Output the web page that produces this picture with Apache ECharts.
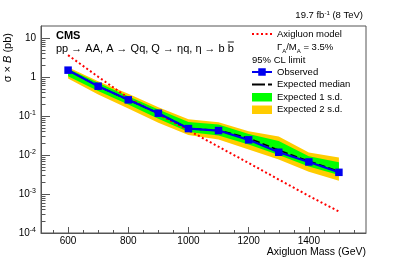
<!DOCTYPE html>
<html><head><meta charset="utf-8">
<script src="https://cdn.jsdelivr.net/npm/echarts@6/dist/echarts.min.js"></script>
<style>html,body{margin:0;padding:0;background:#fff}#c{width:407px;height:260px}</style>
</head><body><div id="c"></div>
<script>
// ---- data ----
const masses = [600, 700, 800, 900, 1000, 1100, 1200, 1300, 1400, 1500];
const observed = [1.48, 0.574, 0.257, 0.117, 0.0472, 0.042, 0.0243, 0.0117, 0.0066, 0.00358];
const expectedMedian = [1.48, 0.574, 0.257, 0.117, 0.0472, 0.0425, 0.0268, 0.0132, 0.0069, 0.00375];
const exp1Up = [1.60, 0.70, 0.318, 0.145, 0.0693, 0.0598, 0.0345, 0.0226, 0.0093, 0.00653];
const exp1Down = [1.04, 0.43, 0.195, 0.0838, 0.0384, 0.0313, 0.0184, 0.00988, 0.00501, 0.00307];
const exp2Up = [1.76, 0.77, 0.366, 0.166, 0.0818, 0.0686, 0.0403, 0.0295, 0.01159, 0.00853];
const exp2Down = [0.90, 0.35, 0.154, 0.0662, 0.0322, 0.0247, 0.0137, 0.00757, 0.00373, 0.00219];
const axigluonModel = [3.58, 1.0, 0.288, 0.11, 0.0427, 0.0162, 0.0062, 0.00234, 0.00089, 0.000355];

const xMin = 510, xMax = 1590, yMin = 0.0001, yMax = 20;
const xMajorTicks = [600, 800, 1000, 1200, 1400];
const xMinorTicks = [550, 650, 700, 750, 850, 900, 950, 1050, 1100, 1150, 1250, 1300, 1350, 1450, 1500, 1550];
const yMajorTicks = [0.0001, 0.001, 0.01, 0.1, 1, 10];
const yMinorTicks = [0.0002, 0.0003, 0.0004, 0.0005, 0.0006, 0.0007, 0.0008, 0.0009,
  0.002, 0.003, 0.004, 0.005, 0.006, 0.007, 0.008, 0.009,
  0.02, 0.03, 0.04, 0.05, 0.06, 0.07, 0.08, 0.09,
  0.2, 0.3, 0.4, 0.5, 0.6, 0.7, 0.8, 0.9,
  2, 3, 4, 5, 6, 7, 8, 9];

const FONT = '"Liberation Sans", Arial, Helvetica, sans-serif';
const FRAME = '#555';

function band(up, down, color, name) {
  return {
    name: name, type: 'custom', coordinateSystem: 'cartesian2d', silent: true, z: 1,
    data: masses.map((m, i) => [m, up[i], down[i]]),
    encode: { x: 0, y: [1, 2] },
    renderItem: function (params, api) {
      if (params.dataIndex !== 0) return null;
      const pts = [];
      for (let i = 0; i < masses.length; i++) pts.push(api.coord([masses[i], up[i]]));
      for (let i = masses.length - 1; i >= 0; i--) pts.push(api.coord([masses[i], down[i]]));
      return { type: 'polygon', shape: { points: pts }, style: { fill: color, stroke: null } };
    }
  };
}

// minor tick marks placed through the axes' own scales
function minorTicks(values, isX, len) {
  return {
    type: 'custom', coordinateSystem: 'cartesian2d', silent: true, z: 6, clip: false,
    data: values.map(v => isX ? [v, yMin] : [xMin, v]),
    encode: { x: 0, y: 1 },
    renderItem: function (params, api) {
      const v = values[params.dataIndex];
      const c = isX ? api.coord([v, yMin]) : api.coord([xMin, v]);
      let shape;
      if (isX) {
        const x = Math.round(c[0]) + 0.5;
        shape = { x1: x, y1: c[1], x2: x, y2: c[1] - len };
      } else {
        const y = Math.round(c[1]) + 0.5;
        shape = { x1: c[0], y1: y, x2: c[0] + len, y2: y };
      }
      return { type: 'line', shape: shape, style: { stroke: FRAME, lineWidth: 1 } };
    }
  };
}

function yLabel(v) {
  const e = Math.round(Math.log10(v));
  if (e === 0) return '1';
  if (e === 1) return '10';
  return '{b|10}{s|' + e + '}';
}

// measure for the b-bar overline
const procText = 'pp \u2192 AA, A \u2192 Qq, Q \u2192 \u03b7q, \u03b7 \u2192 b ';
const procFont = '11px ' + FONT;
const mctx = document.createElement('canvas').getContext('2d');
mctx.font = procFont;
const procX = 56, procY = 48.5;
const wPre = mctx.measureText(procText).width;
const wB = mctx.measureText('b').width;

const LEG = '9.5px ' + FONT;

const chart = echarts.init(document.getElementById('c'), null, { renderer: 'canvas' });
chart.setOption({
  animation: false,
  backgroundColor: '#fff',
  grid: { left: 41, right: 41, top: 26, bottom: 27, show: true, borderColor: FRAME, borderWidth: 1, backgroundColor: 'transparent' },
  xAxis: {
    type: 'value', min: xMin, max: xMax, position: 'bottom',
    name: 'Axigluon Mass (GeV)', nameLocation: 'end', nameGap: 0,
    nameTextStyle: { fontFamily: FONT, fontSize: 10.5, color: '#000', align: 'right', verticalAlign: 'top', padding: [14, 0, 0, 0] },
    axisLine: { show: true, lineStyle: { color: FRAME, width: 1 } },
    axisTick: { show: true, inside: true, length: 6, customValues: xMajorTicks, lineStyle: { color: FRAME } },
    axisLabel: { show: true, customValues: xMajorTicks, margin: 3, formatter: v => String(v), fontFamily: FONT, fontSize: 10, color: '#000' },
    splitLine: { show: false }
  },
  yAxis: {
    type: 'log', logBase: 10, min: yMin, max: yMax, position: 'left',
    name: '\u03c3 \u00d7 {i|B} (pb)', nameLocation: 'end', nameGap: -7, nameRotate: 90,
    nameTextStyle: { fontFamily: FONT, fontSize: 11, color: '#000', align: 'right', verticalAlign: 'bottom', padding: [0, 0, 28, 0],
      rich: { i: { fontStyle: 'italic', fontFamily: FONT, fontSize: 11, color: '#000' } } },
    axisLine: { show: true, lineStyle: { color: FRAME, width: 1 } },
    axisTick: { show: true, inside: true, length: 9, customValues: yMajorTicks, lineStyle: { color: FRAME } },
    axisLabel: { show: true, customValues: yMajorTicks, margin: 5, formatter: yLabel, fontFamily: FONT, fontSize: 10, color: '#000',
      rich: { b: { fontFamily: FONT, fontSize: 10, color: '#000', lineHeight: 12 },
              s: { fontFamily: FONT, fontSize: 7, color: '#000', lineHeight: 8, verticalAlign: 'top' } } },
    splitLine: { show: false }
  },
  series: [
    band(exp2Up, exp2Down, '#ffcc00', 'Expected 2 s.d.'),
    band(exp1Up, exp1Down, '#00ff00', 'Expected 1 s.d.'),
    { name: 'Axigluon model', type: 'line', data: masses.map((m, i) => [m, axigluonModel[i]]), showSymbol: false, symbol: 'none',
      lineStyle: { color: '#ff0000', width: 2, type: [2, 2.5] }, z: 3, silent: true },
    { name: 'Expected median', type: 'line', data: masses.map((m, i) => [m, expectedMedian[i]]), showSymbol: false, symbol: 'none',
      lineStyle: { color: '#000', width: 1.6, type: [7, 3] }, z: 4, silent: true },
    { name: 'Observed', type: 'line', data: masses.map((m, i) => [m, observed[i]]), symbol: 'rect', symbolSize: 7.5,
      itemStyle: { color: '#0000ee' }, lineStyle: { color: '#0000ee', width: 2.2 }, z: 5, silent: true },
    minorTicks(xMinorTicks, true, 3),
    minorTicks(yMinorTicks, false, 4.5)
  ],
  graphic: [
    { type: 'text', x: 363, y: 15, style: { text: '19.7 fb{s|-1} (8 TeV)', font: '9.5px ' + FONT, fill: '#000', align: 'right', verticalAlign: 'middle',
      rich: { s: { fontSize: 6, fontFamily: FONT, fill: '#000', lineHeight: 7, verticalAlign: 'top' } } } },
    { type: 'text', x: 56, y: 36, style: { text: 'CMS', font: 'bold 11px ' + FONT, fill: '#000', align: 'left', verticalAlign: 'middle' } },
    { type: 'text', x: procX, y: procY, style: { text: procText + 'b', font: procFont, fill: '#000', align: 'left', verticalAlign: 'middle' } },
    { type: 'line', shape: { x1: procX + wPre, y1: procY - 6.5, x2: procX + wPre + wB, y2: procY - 6.5 }, style: { stroke: '#000', lineWidth: 0.9 } },
    // legend
    { type: 'line', shape: { x1: 252, y1: 34, x2: 272, y2: 34 }, style: { stroke: '#ff0000', lineWidth: 2, lineDash: [2, 2.5] } },
    { type: 'text', x: 277, y: 34, style: { text: 'Axigluon model', font: LEG, fill: '#000', align: 'left', verticalAlign: 'middle' } },
    { type: 'text', x: 277, y: 47, style: { text: '\u0393{s|A}/M{s|A} = 3.5%', font: LEG, fill: '#000', align: 'left', verticalAlign: 'middle',
      rich: { s: { fontSize: 6, fontFamily: FONT, fill: '#000', lineHeight: 9, verticalAlign: 'bottom', padding: [0, 0, -2, 0] } } } },
    { type: 'text', x: 252, y: 60, style: { text: '95% CL limit', font: LEG, fill: '#000', align: 'left', verticalAlign: 'middle' } },
    { type: 'line', shape: { x1: 252, y1: 72, x2: 272, y2: 72 }, style: { stroke: '#0000ee', lineWidth: 2 } },
    { type: 'rect', shape: { x: 258.25, y: 68.25, width: 7.5, height: 7.5 }, style: { fill: '#0000ee' } },
    { type: 'text', x: 277, y: 72, style: { text: 'Observed', font: LEG, fill: '#000', align: 'left', verticalAlign: 'middle' } },
    { type: 'line', shape: { x1: 252, y1: 84.5, x2: 272, y2: 84.5 }, style: { stroke: '#000', lineWidth: 2, lineDash: [13, 3] } },
    { type: 'text', x: 277, y: 84.5, style: { text: 'Expected median', font: LEG, fill: '#000', align: 'left', verticalAlign: 'middle' } },
    { type: 'rect', shape: { x: 252, y: 93, width: 20, height: 8.5 }, style: { fill: '#00ff00' } },
    { type: 'text', x: 277, y: 97, style: { text: 'Expected 1 s.d.', font: LEG, fill: '#000', align: 'left', verticalAlign: 'middle' } },
    { type: 'rect', shape: { x: 252, y: 105.5, width: 20, height: 8.5 }, style: { fill: '#ffcc00' } },
    { type: 'text', x: 277, y: 109.5, style: { text: 'Expected 2 s.d.', font: LEG, fill: '#000', align: 'left', verticalAlign: 'middle' } }
  ]
});
</script>
</body></html>
